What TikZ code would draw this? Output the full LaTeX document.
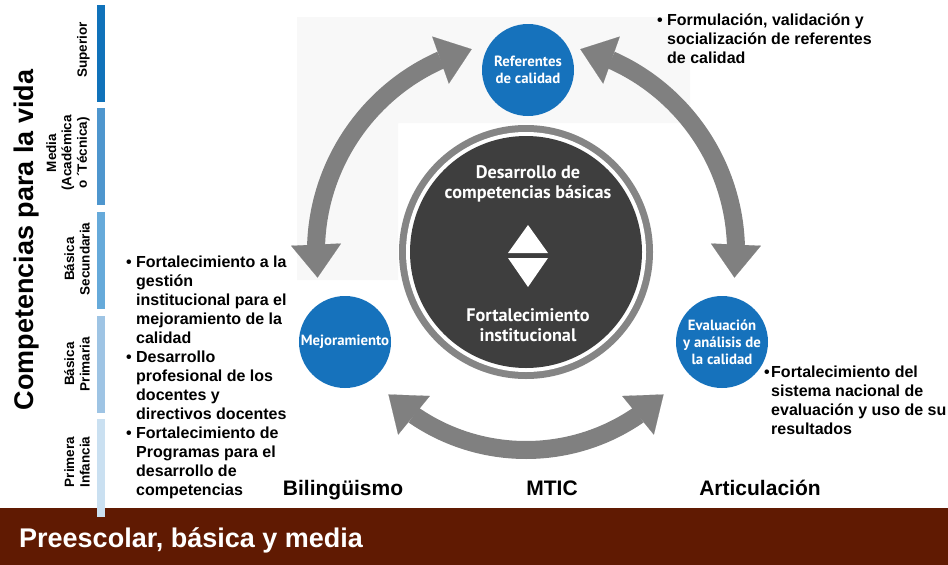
\documentclass[tikz,border=0pt]{standalone}
\usepackage{fontspec}
\setmainfont{Liberation Sans}
\newfontfamily\myr{PT Sans}
\usetikzlibrary{arrows.meta,bending,calc}
\definecolor{cblue}{RGB}{22,114,188}
\definecolor{cgrey}{RGB}{128,128,128}
\definecolor{cring}{RGB}{133,133,133}
\definecolor{cdark}{RGB}{62,62,62}
\definecolor{cband}{RGB}{96,26,2}
\definecolor{barA}{RGB}{16,114,186}
\definecolor{barB}{RGB}{78,150,206}
\definecolor{barC}{RGB}{102,170,218}
\definecolor{barD}{RGB}{158,196,228}
\definecolor{barE}{RGB}{202,224,241}
\definecolor{cbg}{RGB}{248,248,248}
\newcommand{\bul}{\makebox[10pt][l]{\textbullet}}
\newcommand{\ind}{\hspace*{10pt}}
\newcommand{\bulb}{\makebox[7pt][l]{\textbullet}}
\newcommand{\indb}{\hspace*{7pt}}
\begin{document}
\begin{tikzpicture}[x=1pt,y=1pt,
  seglab/.style={rotate=90,anchor=south,align=center,inner sep=0pt,font=\fontsize{13.5}{15.5}\selectfont\bfseries},
  bullets/.style={anchor=north west,align=left,inner sep=0pt,font=\fontsize{16}{19}\selectfont\bfseries},
  bottomlab/.style={anchor=base,inner sep=0pt,font=\fontsize{21}{24}\selectfont\bfseries},
  bluecirc/.style={circle,fill=cblue,minimum size=92pt,inner sep=0pt,text=white,align=center,font=\myr\bfseries\fontsize{14.8}{17}\selectfont},
  centertxt/.style={text=white,align=center,inner sep=0pt,font=\myr\bfseries\fontsize{18.2}{20}\selectfont},
  bigarrow/.style={draw=cgrey,line width=18pt,>={Triangle[width=50pt,length=33pt,line width=0.1pt]},<->},
  bar/.style={inner sep=0pt,minimum width=8pt,minimum height=97pt},
]
\useasboundingbox (0,0) rectangle (948,-565);
\fill[white] (0,0) rectangle (948,-565);
% faint panel behind arrows
\fill[cbg] (297,-17) -- (690,-17) -- (690,-123) -- (398,-123) -- (398,-280) -- (297,-280) -- cycle;
% bottom band
\fill[cband] (0,-508) rectangle (948,-565);
\node[anchor=west,text=white,inner sep=0pt,font=\fontsize{27}{30}\selectfont\bfseries] (band) at (19,-540) {Preescolar, básica y media};
% level bars
\node[bar,fill=barA] (b1) at (101,-53.5) {};
\node[bar,fill=barB] (b2) at (101,-156) {};
\node[bar,fill=barC] (b3) at (101,-260.5) {};
\node[bar,fill=barD] (b4) at (101,-364.5) {};
\node[bar,fill=barE,minimum height=98pt] (b5) at (101,-468) {};
% level labels
\node[seglab] (s1) at (90,-50) {Superior};
\node[seglab] (s2) at (90,-153) {Media\\(Académica\\o ´Técnica)};
\node[seglab] (s3) at (90,-259) {Básica\\Secundaria};
\node[seglab] (s4) at (90,-364) {Básica\\Primaria};
\node[seglab] (s5) at (90,-462) {Primera\\Infancia};
% title
\node[rotate=90,inner sep=0pt,font=\fontsize{27}{30}\selectfont\bfseries] (title) at (27,-240) {Competencias para la vida};
% central circle
\coordinate (C) at (526,-252);
\fill[cring] (C) circle (127);
\fill[white] (C) circle (120);
\node[circle,fill=cdark,minimum size=232pt,inner sep=0pt] (core) at (C) {};
\node[centertxt] (t1) at (528,-184) {Desarrollo de\\competencias básicas};
\node[centertxt] (t2) at (528,-325) {Fortalecimiento\\institucional};
\fill[white] (508,-253) -- (548,-253) -- (528,-225) -- cycle;
\fill[white] (508,-258) -- (548,-258) -- (528,-287) -- cycle;
% arrows
\coordinate (lt) at ($(C)+(105:210)$);
\coordinate (rt) at ($(C)+(75:210)$);
\coordinate (bl) at ($(C)+(226:198)$);
\draw[bigarrow] (lt) arc[start angle=105,end angle=187,radius=210];
\draw[bigarrow] (rt) arc[start angle=75,end angle=-7,radius=210];
\draw[bigarrow] (bl) arc[start angle=226,end angle=314,radius=198];
% blue circles
\node[bluecirc] (ref) at (528,-70) {Referentes\\de calidad};
\node[bluecirc] (mej) at (345,-342) {Mejoramiento};
\node[bluecirc] (eva) at (722,-342) {Evaluación\\y análisis de\\la calidad};
% bullet texts
\node[bullets] (lbul) at (126,-255.5) {\bul Fortalecimiento a la\\ \ind gestión\\ \ind institucional para el\\ \ind mejoramiento de la\\ \ind calidad\\ \bul Desarrollo\\ \ind profesional de los\\ \ind docentes y\\ \ind directivos docentes\\ \bul Fortalecimiento de\\ \ind Programas para el\\ \ind desarrollo de\\ \ind competencias};
\node[bullets] (tbul) at (657,-13.4) {\bul Formulación, validación y\\ \ind socialización de referentes\\ \ind de calidad};
\node[bullets] (rbul) at (764,-365.5) {\bulb Fortalecimiento del\\ \indb sistema nacional de\\ \indb evaluación y uso de su\\ \indb resultados};
% bottom labels
\node[bottomlab] (bil) at (343,-495) {Bilingüismo};
\node[bottomlab] (mtic) at (552,-495) {MTIC};
\node[bottomlab] (art) at (760,-495) {Articulación};
\end{tikzpicture}
\end{document}
